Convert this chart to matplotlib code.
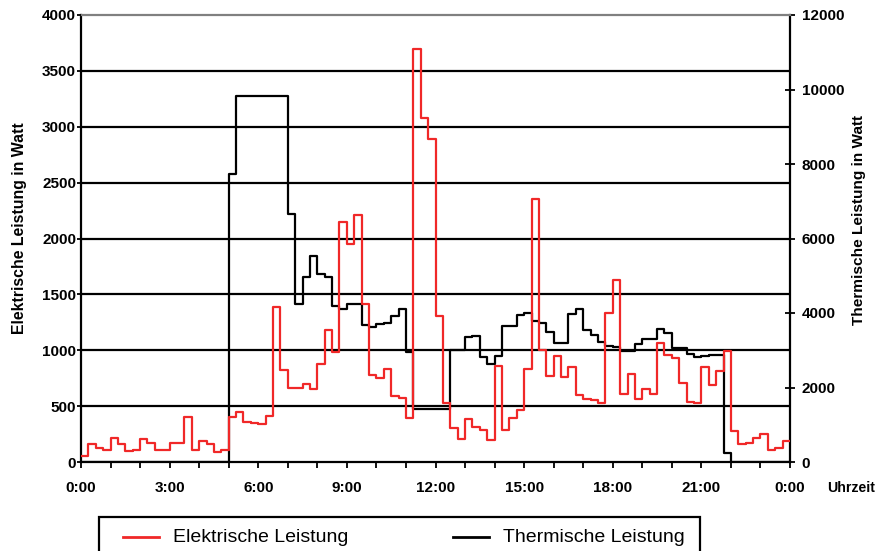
import numpy as np
import matplotlib
matplotlib.use("Agg")
import matplotlib.pyplot as plt
from matplotlib.patches import Rectangle
from matplotlib.lines import Line2D
from matplotlib import font_manager

# quarter-hour values, 0:00 .. 23:45
elektrisch = [56, 161, 128, 110, 217, 158, 98, 110, 205, 173, 110, 110,
              173, 173, 405, 110, 185, 161, 87, 110, 400, 450, 358, 349,
              343, 414, 1389, 823, 665, 665, 700, 656, 880, 1181, 987, 2144,
              1950, 2209, 1416, 778, 748, 829, 593, 575, 391, 3700, 3074, 2889,
              1309, 525, 301, 203, 382, 316, 286, 197, 859, 286, 391, 465,
              832, 2352, 1002, 769, 948, 763, 850, 599, 566, 552, 530, 1330,
              1628, 608, 787, 563, 650, 605, 1061, 957, 927, 710, 540, 525,
              847, 689, 817, 996, 280, 158, 173, 212, 248, 107, 128, 188]

thermisch = [0] * 20 + [7720, 9830, 9830, 9830, 9830, 9830, 9830, 9830,
             6660, 4250, 4960, 5540, 5040, 4960, 4190, 4110,
             4250, 4250, 3690, 3620, 3710, 3730, 3930, 4100,
             2960, 1410, 1410, 1410, 1410, 1410, 3000, 3000,
             3360, 3370, 2830, 2630, 2840, 3660, 3660, 3940,
             3990, 3790, 3740, 3500, 3200, 3200, 3980, 4110,
             3540, 3420, 3230, 3120, 3080, 2990, 2990, 3180,
             3300, 3300, 3570, 3450, 3050, 3050, 2890, 2830,
             2850, 2870, 2870, 250] + [0] * 8

x_ticklabels = ["0:00", "3:00", "6:00", "9:00", "12:00", "15:00", "18:00", "21:00", "0:00"]
left_ticks = [0, 500, 1000, 1500, 2000, 2500, 3000, 3500, 4000]
right_ticks = [0, 2000, 4000, 6000, 8000, 10000, 12000]
legend_labels = ["Elektrische Leistung", "Thermische Leistung"]

plt.rcParams['font.family'] = ['Liberation Sans', 'DejaVu Sans']
names = {f.name for f in font_manager.fontManager.ttflist}
if 'Liberation Sans Narrow' in names:
    narrow = dict(family=['Liberation Sans Narrow', 'Liberation Sans'], size=13, weight='bold')
else:
    narrow = dict(family=['Liberation Sans', 'DejaVu Sans'], size=11, weight='bold')

W, H = 877, 551
fig = plt.figure(figsize=(W / 100, H / 100), dpi=100)
L, R, T, B = 81, 790, 15, 462
ax2 = fig.add_axes([L / W, 1 - B / H, (R - L) / W, (B - T) / H])
ax = ax2.twinx()
ax.yaxis.tick_left()
ax.yaxis.set_label_position('left')
ax2.yaxis.tick_right()
ax2.yaxis.set_label_position('right')
ax.set_zorder(ax2.get_zorder() + 1)
ax.patch.set_visible(False)

red = '#f02828'
t = np.arange(len(elektrisch) + 1) * 0.25
ax2.step(t, thermisch + [thermisch[-1]], where='post', color='black', lw=1.6, zorder=3)
ax.step(t, elektrisch + [elektrisch[-1]], where='post', color=red, lw=1.6, zorder=3)

ax.set_xlim(0, 24)
ax.set_ylim(0, 4000)
ax2.set_ylim(0, 12000)

for v in left_ticks[1:-1]:
    ax.axhline(v, color='black', lw=1.6, zorder=1)

for a in (ax, ax2):
    for s in a.spines.values():
        s.set_visible(False)
for k in ('left', 'right', 'bottom', 'top'):
    ax2.spines[k].set_visible(True)
for k in ('left', 'right', 'bottom'):
    ax2.spines[k].set_color('black')
    ax2.spines[k].set_linewidth(1.6)
ax2.spines['top'].set_color('#808080')
ax2.spines['top'].set_linewidth(1.6)

ax.set_yticks(left_ticks)
ax.set_yticklabels([str(v) for v in left_ticks], **narrow)
ax.tick_params(axis='y', direction='out', length=3, width=1.3, pad=0.5)
ax2.set_yticks(right_ticks)
ax2.set_yticklabels([str(v) for v in right_ticks], **narrow)
ax2.tick_params(axis='y', direction='inout', length=7, width=1.3, pad=5)

ax2.set_xticks(np.arange(0, 25, 3))
ax2.set_xticks(np.arange(0, 25, 1), minor=True)
ax2.set_xticklabels(x_ticklabels, **narrow)
ax2.tick_params(axis='x', which='both', direction='out', length=4, width=1.3, pad=10)
ax.tick_params(axis='x', which='both', bottom=False, labelbottom=False, top=False)

fig.text(19.5 / W, 1 - 228 / H, "Elektrische Leistung in Watt", rotation=90,
         ha='center', va='center', fontsize=11.4, fontweight='bold')
fig.text(859 / W, 1 - 220 / H, "Thermische Leistung in Watt", rotation=90,
         ha='center', va='center', fontsize=11.1, fontweight='bold')
uhr = dict(narrow)
uhr['size'] = narrow['size'] - 0.8
fig.text(875.5 / W, 1 - 488 / H, "Uhrzeit", ha='right', va='center', **uhr)

# legend box (bottom partially cut off as in original)
fig.patches.append(Rectangle((99 / W, -0.05), (700 - 99) / W, 0.05 + 1 - 517 / H,
                             transform=fig.transFigure, fill=False,
                             edgecolor='black', lw=1.6))
ly = 1 - 537 / H
fig.lines.append(Line2D([123 / W, 159 / W], [ly, ly], transform=fig.transFigure,
                        color=red, lw=2))
fig.text(173 / W, ly, legend_labels[0], ha='left', va='center', fontsize=14)
fig.lines.append(Line2D([453 / W, 489 / W], [ly, ly], transform=fig.transFigure,
                        color='black', lw=2))
fig.text(503 / W, ly, legend_labels[1], ha='left', va='center', fontsize=14)

fig.savefig("out.png", dpi=100)
